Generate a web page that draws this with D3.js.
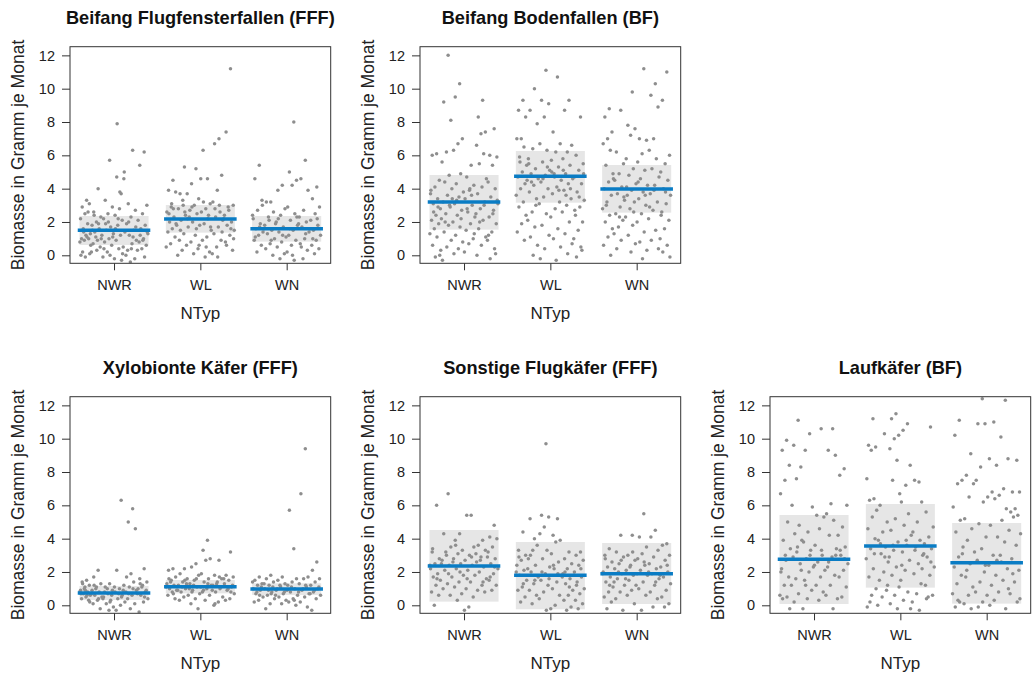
<!DOCTYPE html>
<html>
<head>
<meta charset="utf-8">
<script src="https://cdn.jsdelivr.net/npm/d3@7"></script>
<style>
  body { margin: 0; background: #fff; }
  text { font-family: "Liberation Sans", Arial, Helvetica, sans-serif; }
</style>
</head>
<body>
<svg id="chart" width="1032" height="673"></svg>
<script>
// ---- data ---------------------------------------------------------------
const categories = ["NWR", "WL", "WN"];
const yTicks = [0, 2, 4, 6, 8, 10, 12];
const panelTitles = [
  "Beifang Flugfensterfallen (FFF)",
  "Beifang Bodenfallen (BF)",
  "Xylobionte Käfer (FFF)",
  "Sonstige Flugkäfer (FFF)",
  "Laufkäfer (BF)"
];
const yTitle = "Biomasse in Gramm je Monat";
const xTitle = "NTyp";

// group means and the shaded band around them
const fffMean = [1.50, 2.18, 1.60];
const fffLow  = [0.62, 1.36, 0.82];
const fffHigh = [2.36, 3.02, 2.36];

const bfMean = [3.20, 4.74, 3.98];
const bfLow  = [1.54, 3.16, 2.56];
const bfHigh = [4.82, 6.26, 5.42];

const xylMean = [0.74, 1.12, 0.98];
const xylLow  = [0.32, 0.72, 0.62];
const xylHigh = [1.16, 1.52, 1.32];

const sonMean = [2.36, 1.80, 1.90];
const sonLow  = [0.22, -0.24, 0.08];
const sonHigh = [4.52, 3.80, 3.74];

const laufMean = [2.76, 3.56, 2.56];
const laufLow  = [0.08, 1.06, 0.10];
const laufHigh = [5.42, 6.08, 4.94];

// single observations per group (g/month); "|" separates left-to-right strips of the cloud
const fffPoints = [
  "3.3 2.9 3.1 2.5 2.2 1.9 1.6 1.3 1.2 1.0 1.0 0.9 0.8 1.1 0.2 0.1 -0.1 0.0 2.6 1.4 0.6|4.0 2.6 2.3 2.0 1.8 1.6 1.4 1.2 0.9 0.7 0.5 1.1 0.2 1.9 2.4 1.0 0.3 1.5|5.7 3.3 2.9 2.5 2.2 1.7 1.5 1.3 1.0 0.8 0.6 0.2 -0.1 0.0 1.9 1.1 2.0 0.4|3.7 4.7 4.6 2.8 2.4 2.1 1.8 1.4 1.2 0.9 0.5 0.4 -0.2 -0.3 7.9 5.0 3.8 1.6 0.1 2.2|6.3 3.1 2.7 2.3 1.9 1.5 1.2 0.9 0.7 0.3 -0.2 -0.4 0.0 1.1 2.0 1.7 0.4|6.2 5.4 3.0 2.5 2.1 1.8 1.6 1.3 1.0 0.8 0.6 0.4 0.3 -0.1 1.2 1.4 0.9",
  "4.5 3.9 3.8 2.9 2.6 2.3 2.0 1.8 1.6 1.4 1.1 0.7 0.5 2.8 2.5 1.9 3.1|5.3 3.7 3.7 3.3 2.8 2.4 2.1 1.7 1.3 0.9 0.6 0.3 0.0 2.6 1.5 2.2 3.0|5.2 4.3 3.4 3.0 2.7 2.5 2.0 1.8 1.2 0.8 0.4 0.1 2.3 1.6 2.9 0.6|4.6 6.3 3.1 2.8 2.6 2.4 1.9 1.5 1.1 0.9 0.2 -0.1 4.6 2.2 3.2 1.7 0.5|7.0 6.7 4.8 3.9 3.2 2.6 2.3 2.1 1.7 1.3 0.9 0.5 0.1 3.0 2.8 1.4 -0.1|11.2 7.4 3.0 2.7 2.4 2.0 1.8 1.5 1.2 0.8 0.3 2.9 2.2 1.6 0.6 1.0",
  "5.4 4.6 3.3 2.7 2.2 1.9 1.6 1.4 1.2 0.9 0.6 0.2 2.4 1.7 1.1 3.0|3.2 3.2 2.6 2.1 1.8 1.5 1.3 1.0 0.7 0.4 0.0 2.3 1.6 0.9|4.2 3.9 2.8 2.4 2.0 1.7 1.4 1.1 0.8 0.5 0.1 -0.2 1.9 1.2 2.2|8.0 5.0 4.5 4.2 2.9 2.5 2.1 1.8 1.5 1.2 0.9 0.6 0.2 -0.3 1.6 2.3 0.0|5.7 4.6 3.9 2.7 2.3 2.0 1.7 1.4 1.0 0.7 0.3 -0.2 1.9 1.3 0.5|4.1 3.4 2.9 2.5 2.1 1.8 1.5 1.2 0.9 0.6 0.4 0.1 1.6 2.2 1.0"
];
const bfPoints = [
  "6.1 6.0 4.5 4.1 3.7 3.4 3.1 2.8 2.4 2.1 1.9 1.6 1.3 1.1 0.6 0.0 -0.1 3.9 2.9 2.6 0.3|12.0 9.2 8.1 6.2 5.6 4.8 4.4 4.0 3.6 3.2 2.9 2.5 2.2 1.8 1.4 0.9 0.5 -0.3 3.0 2.0 3.4|10.3 9.5 7.0 6.7 6.3 4.9 4.3 3.8 3.5 3.1 2.7 2.4 2.0 1.7 1.2 0.8 0.4 0.1 2.2 3.3|5.4 4.7 4.2 3.9 3.4 3.0 2.6 2.3 1.9 1.5 1.0 0.7 0.2 3.6 2.8 1.3 4.0|9.3 8.3 7.4 7.3 6.6 6.1 5.5 4.6 4.1 3.7 3.2 2.8 2.5 2.1 1.6 1.1 0.6 0.0 3.0 2.0|7.6 6.0 5.9 5.4 4.4 4.0 3.5 3.1 2.7 2.3 1.9 1.4 0.9 0.4 -0.2 3.3 2.5 1.2 0.1",
  "9.3 8.7 8.3 7.0 7.0 6.5 5.9 5.4 5.0 4.7 4.3 4.0 3.6 3.2 2.9 2.4 1.9 1.4 0.9 5.6 4.5|10.0 8.7 7.9 6.4 5.8 5.2 4.9 4.6 4.2 3.8 3.4 2.6 2.1 1.7 1.1 0.6 0.0 5.5 3.0 4.4|11.1 9.3 9.1 8.3 6.7 6.3 5.6 5.1 4.8 4.4 4.0 3.5 3.1 2.5 1.8 1.2 0.4 -0.2 5.3 4.6|10.7 7.4 6.7 6.2 5.7 5.3 4.9 4.5 4.1 3.7 3.2 2.8 2.3 1.6 1.0 0.5 -0.3 5.0 3.9 4.7|9.3 8.7 6.6 6.2 5.8 5.4 4.9 4.6 4.3 3.9 3.4 3.0 2.6 2.0 1.3 0.7 0.1 5.1 4.0 3.6|8.3 6.0 5.5 5.1 4.7 4.3 3.8 3.3 2.9 2.4 2.0 1.5 1.0 0.5 -0.1 4.9 3.5 2.7 0.3",
  "8.8 8.3 7.4 7.0 6.7 6.3 5.4 4.9 4.4 4.0 3.6 3.2 2.8 2.4 2.0 1.6 1.1 0.6 0.0 3.0 4.6|8.7 6.2 5.5 4.9 4.5 4.1 3.7 3.3 2.9 2.5 2.1 1.7 1.3 0.9 0.4 3.5 2.3|9.8 7.8 7.6 7.2 5.8 5.2 4.8 4.3 3.9 3.6 3.2 2.8 2.3 1.8 1.2 0.7 0.2 4.1 2.6|11.2 7.0 6.9 6.1 5.6 5.1 4.6 4.2 3.8 3.4 3.0 2.5 2.0 1.4 0.8 0.3 -0.2 4.4 3.6|10.3 9.6 8.9 7.0 6.3 5.8 5.2 4.7 4.2 3.7 3.2 2.7 2.2 1.5 0.9 0.4 3.9 2.9|11.0 9.3 6.0 5.5 5.0 4.5 4.0 3.6 3.1 2.6 2.1 1.6 1.0 0.6 0.2 -0.1 3.8 2.4"
];
const xylPoints = [
  "1.5 1.4 1.2 1.1 0.9 0.8 0.7 0.6 0.5 0.4 0.3 1.0 0.8 0.6 1.3 0.2 0.9 0.7|2.1 1.7 1.3 1.1 0.9 0.8 0.6 0.5 0.3 0.1 -0.2 1.0 0.7 0.4 1.2|1.3 1.1 0.9 0.7 0.5 0.3 0.1 -0.1 -0.3 0.8 0.6 1.0 0.4 0.2|6.3 2.1 1.2 1.0 0.8 0.6 0.4 0.2 0.0 -0.3 0.9 0.7 1.1 0.5|5.8 5.0 4.6 1.9 1.7 1.4 1.1 0.9 0.6 0.4 0.1 -0.2 0.8 1.0 0.7|2.2 1.6 1.4 1.2 1.0 0.8 0.6 0.4 0.2 -0.4 0.9 1.1 0.7 0.5 1.3",
  "2.2 2.1 1.7 1.5 1.3 1.2 1.0 0.9 0.8 0.6 0.4 1.4 1.1 0.7 1.6|2.2 1.9 1.6 1.4 1.2 1.0 0.8 0.6 0.5 0.3 1.3 1.1 0.9 1.5|2.5 2.3 1.8 1.5 1.3 1.1 0.9 0.7 0.4 0.1 -0.2 1.2 1.0 1.6 0.8|3.9 3.3 2.8 2.7 1.9 1.6 1.4 1.2 1.0 0.8 0.6 0.3 1.1 1.3 0.9|2.7 1.8 1.6 1.4 1.2 1.0 0.8 0.5 0.2 0.0 1.1 1.3 0.9 1.7 0.1|3.2 1.8 1.7 1.5 1.3 1.1 0.9 0.7 0.4 0.3 1.2 1.0 1.6 0.8",
  "1.7 1.5 1.3 1.2 1.0 0.9 0.7 0.5 0.3 0.2 1.1 0.8 1.4 0.6|1.8 1.6 1.4 1.2 1.0 0.8 0.6 0.4 0.1 -0.2 1.1 0.9 1.3 0.7|1.7 1.5 1.3 1.1 0.9 0.7 0.5 0.3 0.1 1.0 0.8 1.2 0.6|3.4 5.7 1.6 1.4 1.2 1.0 0.8 0.6 0.4 0.2 0.0 1.1 0.9 0.3|9.4 6.7 1.7 1.6 1.3 1.1 0.9 0.7 0.5 0.2 -0.1 1.0 0.8 1.2|2.6 2.1 1.6 1.4 1.2 1.0 0.8 0.6 0.4 -0.3 1.1 0.9 0.7"
];
const sonPoints = [
  "6.0 3.2 2.8 2.5 2.2 1.9 1.7 1.5 1.2 0.8 0.6 0.0 2.4 1.6 3.4|6.7 4.3 3.5 3.0 2.7 2.4 2.1 1.7 1.3 1.0 0.6 3.2 2.5 1.9|4.3 3.9 3.3 3.1 2.8 2.5 2.2 1.8 1.4 1.1 0.7 0.3 2.6 2.0 3.6|5.4 5.4 3.5 3.0 2.7 2.4 2.1 1.8 1.4 1.0 0.5 -0.1 -0.3 2.9 1.6|3.9 3.6 3.3 2.9 2.6 2.3 2.0 1.6 1.2 0.9 0.8 2.7 3.1 1.4|4.8 4.1 4.0 3.5 3.2 2.8 2.5 2.2 1.9 1.5 1.2 0.9 2.9 2.3 1.7",
  "4.4 3.3 3.0 2.7 2.4 2.1 1.8 1.5 1.1 0.9 0.5 0.2 2.0 1.3 2.9|4.0 5.2 3.6 3.3 2.8 2.4 2.0 1.7 1.3 0.9 0.6 0.1 2.2 1.5 3.0|9.7 5.4 5.3 4.7 4.3 3.3 2.8 2.3 1.9 1.5 1.2 0.8 0.4 -0.3 2.0 1.6|5.2 4.2 3.9 3.8 3.1 2.6 2.2 1.8 1.4 1.0 0.6 0.0 -0.2 1.9 2.4|3.2 2.8 2.5 2.2 1.9 1.6 1.3 0.9 0.6 0.3 -0.1 -0.3 1.7 1.1 2.0|3.2 3.0 2.7 2.4 2.0 1.7 1.4 1.0 0.7 0.3 0.1 -0.2 1.8 2.2 1.2",
  "3.4 3.0 2.6 2.3 2.0 1.7 1.4 1.1 0.8 0.5 0.2 -0.2 1.9 1.2 2.8|4.2 3.2 2.9 2.5 2.2 1.9 1.6 1.2 0.8 0.4 -0.3 2.0 1.4 2.7|4.2 3.0 2.7 2.4 2.1 1.8 1.5 1.2 0.9 0.6 0.1 2.3 1.6 3.2|5.5 4.1 3.5 3.1 2.8 2.4 2.1 1.8 1.4 1.0 0.6 -0.3 1.9 2.6|4.5 4.1 3.3 2.9 2.5 2.2 1.9 1.6 1.2 0.8 0.4 -0.1 2.0 1.4|3.7 3.6 3.0 2.7 2.3 2.0 1.7 1.3 0.9 0.5 0.1 -0.1 1.8 2.4"
];
const laufPoints = [
  "9.9 9.3 8.4 7.5 6.7 5.0 3.9 3.4 2.7 2.2 1.7 1.2 0.6 0.5 0.4 -0.2 3.0 2.0|11.1 9.6 8.3 7.6 6.0 4.8 4.3 3.9 3.5 2.9 2.5 1.6 1.2 0.7 0.2 2.1 3.2|10.3 9.3 5.9 4.4 3.8 3.3 2.8 2.3 2.0 1.5 0.9 0.4 -0.2 3.0 1.2|10.6 5.4 5.3 4.6 3.6 3.0 2.6 2.1 1.7 1.2 0.8 0.3 2.4 3.3|10.6 9.3 9.0 6.1 5.5 5.1 4.2 3.4 2.9 2.3 1.8 1.2 0.6 -0.2 2.6 3.0|8.2 7.8 6.0 4.7 4.2 3.5 3.0 2.5 2.1 1.7 1.1 0.5 0.4 2.8 3.3",
  "11.2 9.6 9.5 9.3 7.6 6.4 6.3 5.7 5.3 4.6 4.0 3.4 2.8 2.2 1.7 1.0 0.6 -0.1 3.1 0.2|10.3 6.0 5.0 4.4 3.9 3.5 3.1 2.6 2.0 1.5 0.9 0.5 0.0 2.9 3.7 1.2|11.5 11.2 10.2 10.0 9.4 8.7 7.5 6.7 5.2 4.5 3.8 3.3 2.9 2.3 1.8 1.1 0.6 0.1 -0.2 3.6|10.9 10.5 8.4 7.2 6.2 5.5 4.8 4.2 3.6 3.2 2.7 2.1 1.5 0.8 0.3 -0.2 3.9 2.4|7.4 7.5 6.2 5.0 4.4 3.9 3.5 3.0 2.5 1.9 1.3 0.7 0.2 -0.3 3.3 2.2|10.7 5.6 4.7 4.1 3.7 3.4 2.9 2.3 1.8 1.2 0.6 0.5 3.1 2.6 0.4",
  "11.1 10.2 7.5 7.3 5.9 5.1 4.4 3.5 2.9 2.3 1.8 1.3 0.7 0.2 -0.1 3.1 0.3|9.1 7.8 7.3 6.5 5.2 4.6 3.9 3.2 2.5 1.7 1.1 0.6 0.1 -0.2 2.1|12.4 10.9 10.9 8.3 7.5 6.2 4.9 4.1 3.4 2.7 2.0 1.4 0.8 0.2 -0.1 2.4|11.0 8.8 8.4 6.8 6.5 6.4 4.8 4.1 3.0 2.4 1.8 1.2 0.6 0.3 0.0 2.7|12.3 10.1 8.8 7.0 6.6 5.8 5.1 4.5 3.8 3.0 2.2 1.5 0.8 -0.2 2.6 1.0|8.7 6.8 6.8 5.8 5.6 5.4 5.3 4.3 3.6 2.8 2.1 1.4 0.7 0.2 1.9 0.4"
];

// ---- layout -------------------------------------------------------------
const panels = [
  { title: panelTitles[0], col: 0, row: 0, mean: fffMean,  low: fffLow,  high: fffHigh,  pts: fffPoints },
  { title: panelTitles[1], col: 1, row: 0, mean: bfMean,   low: bfLow,   high: bfHigh,   pts: bfPoints },
  { title: panelTitles[2], col: 0, row: 1, mean: xylMean,  low: xylLow,  high: xylHigh,  pts: xylPoints },
  { title: panelTitles[3], col: 1, row: 1, mean: sonMean,  low: sonLow,  high: sonHigh,  pts: sonPoints },
  { title: panelTitles[4], col: 2, row: 1, mean: laufMean, low: laufLow, high: laufHigh, pts: laufPoints }
];

const colLeft = [70, 420, 770];
const rowTop = [46.7, 396.7];
const plotW = 260.7, plotH = 216.6;
const halfWidth = 0.4;          // half width of band, mean line and jitter
const phi = 0.6180339887;

const svg = d3.select("#chart");

// place each observation inside its strip; order inside a strip is spread by a golden-ratio step
function placeGroup(str) {
  const strips = str.split("|").map(s => s.trim().split(/\s+/).map(Number));
  const out = [];
  strips.forEach((vals, si) => {
    vals.forEach((v, k) => {
      const f = ((k + 1) * phi) % 1;
      const u = (si + f) / strips.length;
      out.push({ dx: (u - 0.5) * 2 * halfWidth, v });
    });
  });
  return out;
}

panels.forEach((p, pi) => {
  const g = svg.append("g")
    .attr("transform", `translate(${colLeft[p.col]},${rowTop[p.row]})`);

  const x = d3.scaleLinear().domain([0.49, 3.51]).range([0, plotW]);
  const y = d3.scaleLinear().domain([-0.48, 12.52]).range([plotH, 0]);

  const clipId = "clip" + pi;
  g.append("clipPath").attr("id", clipId)
    .append("rect").attr("width", plotW).attr("height", plotH);

  const body = g.append("g").attr("clip-path", `url(#${clipId})`);

  // shaded bands
  body.selectAll("rect.band").data(categories).join("rect")
    .attr("class", "band")
    .attr("x", (d, i) => x(i + 1 - halfWidth))
    .attr("width", (d, i) => x(i + 1 + halfWidth) - x(i + 1 - halfWidth))
    .attr("y", (d, i) => y(p.high[i]))
    .attr("height", (d, i) => y(p.low[i]) - y(p.high[i]))
    .attr("fill", "#e6e6e6");

  // jittered observations
  categories.forEach((c, i) => {
    const pts = placeGroup(p.pts[i]);
    body.append("g").selectAll("circle").data(pts).join("circle")
      .attr("cx", d => x(i + 1 + d.dx))
      .attr("cy", d => y(d.v))
      .attr("r", 1.75)
      .attr("fill", "#8e8e8e");
  });

  // group means
  body.selectAll("line.mean").data(categories).join("line")
    .attr("class", "mean")
    .attr("x1", (d, i) => x(i + 1 - halfWidth))
    .attr("x2", (d, i) => x(i + 1 + halfWidth))
    .attr("y1", (d, i) => y(p.mean[i]))
    .attr("y2", (d, i) => y(p.mean[i]))
    .attr("stroke", "#0a7cc4")
    .attr("stroke-width", 3.5)
    .attr("stroke-linecap", "square");

  // frame
  g.append("rect")
    .attr("width", plotW).attr("height", plotH)
    .attr("fill", "none").attr("stroke", "#333").attr("stroke-width", 1);

  // axes
  const yAxis = d3.axisLeft(y).tickValues(yTicks).tickSize(8).tickPadding(7).tickSizeOuter(0);
  const ya = g.append("g").call(yAxis);
  ya.select(".domain").remove();
  ya.selectAll("line").attr("stroke", "#333");
  ya.selectAll("text").attr("font-size", 14.5).attr("fill", "#222")
    .attr("font-family", "'Liberation Sans', Arial, sans-serif");

  const xAxis = d3.axisBottom(x).tickValues([1, 2, 3]).tickFormat((d, i) => categories[i])
    .tickSize(7).tickPadding(9).tickSizeOuter(0);
  const xa = g.append("g").attr("transform", `translate(0,${plotH})`).call(xAxis);
  xa.select(".domain").remove();
  xa.selectAll("line").attr("stroke", "#333");
  xa.selectAll("text").attr("font-size", 14.5).attr("fill", "#222")
    .attr("font-family", "'Liberation Sans', Arial, sans-serif");

  // titles
  g.append("text")
    .attr("x", plotW / 2).attr("y", -22.7)
    .attr("text-anchor", "middle")
    .attr("font-size", 18.2).attr("font-weight", "bold").attr("fill", "#111")
    .text(p.title);

  g.append("text")
    .attr("x", plotW / 2).attr("y", plotH + 55.5)
    .attr("text-anchor", "middle")
    .attr("font-size", 17).attr("fill", "#222")
    .text(xTitle);

  g.append("text")
    .attr("transform", `translate(-46,${plotH / 2}) rotate(-90)`)
    .attr("text-anchor", "middle")
    .attr("font-size", 17.5).attr("fill", "#222")
    .text(yTitle);
});
</script>
</body>
</html>
